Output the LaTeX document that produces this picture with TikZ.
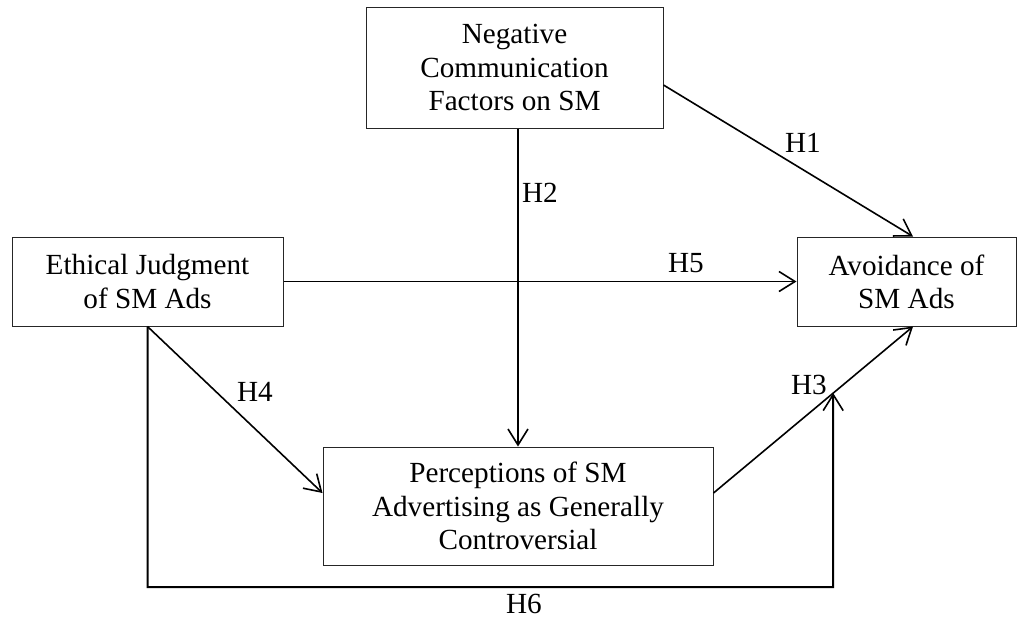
\documentclass[tikz,border=0pt]{standalone}
\usepackage{fontspec}
\setmainfont{Liberation Serif}
\usetikzlibrary{arrows.meta,calc}
\tikzset{
  box/.style={draw=black!85, line width=0.5pt, align=center, inner sep=0pt,
    font=\fontsize{14.6}{16.6}\selectfont},
  conn/.style={line width=0.8pt, -{Straight Barb[length=8pt,width=10pt,line width=0.8pt]}},
  lbl/.style={inner sep=0pt, font=\fontsize{14.6}{16.6}\selectfont}
}
\begin{document}
\begin{tikzpicture}[x=0.5pt,y=-0.5pt]
\useasboundingbox (0,0) rectangle (1019,622);
\node[box, minimum width=148.5pt, minimum height=60.5pt] (top) at (514.5,67.5) {Negative\\Communication\\Factors on SM};
\node[box, minimum width=135.5pt, minimum height=44.5pt] (left) at (147.5,281.5) {Ethical Judgment\\of SM Ads};
\node[box, minimum width=109.5pt, minimum height=44.5pt] (avoid) at (906.5,281.5) {Avoidance of\\SM Ads};
\node[box, minimum width=195pt, minimum height=59pt] (bot) at (518,506) {Perceptions of SM\\Advertising as Generally\\Controversial};

% H1
\draw[conn] ([yshift=-8.75pt]top.east) -- ([xshift=3.25pt]avoid.north);
% H2
\draw[conn] (top.south -| bot.north) -- (bot.north);
% H5
\draw[conn] (left.east) -- (avoid.west);
% H4
\draw[conn] (left.south) -- ([yshift=6.5pt]bot.west);
% H3
\coordinate (h3s) at ([yshift=6.5pt]bot.east);
\coordinate (h3e) at ([xshift=3.25pt]avoid.south);
\draw[conn] (h3s) -- (h3e);
% H6
\coordinate (h3mid) at ($(h3s)!0.6!(h3e)$);
\coordinate (h6r) at (833,587);
\draw[conn, line width=1pt] (left.south) |- (h6r) -- (h3mid);

\node[lbl] (l1) at (803,143) {H1};
\node[lbl] (l2) at (540,193) {H2};
\node[lbl] (l5) at (686,263) {H5};
\node[lbl] (l4) at (255,392) {H4};
\node[lbl] (l3) at (809,385) {H3};
\node[lbl] (l6) at (524,604) {H6};
\end{tikzpicture}
\end{document}
